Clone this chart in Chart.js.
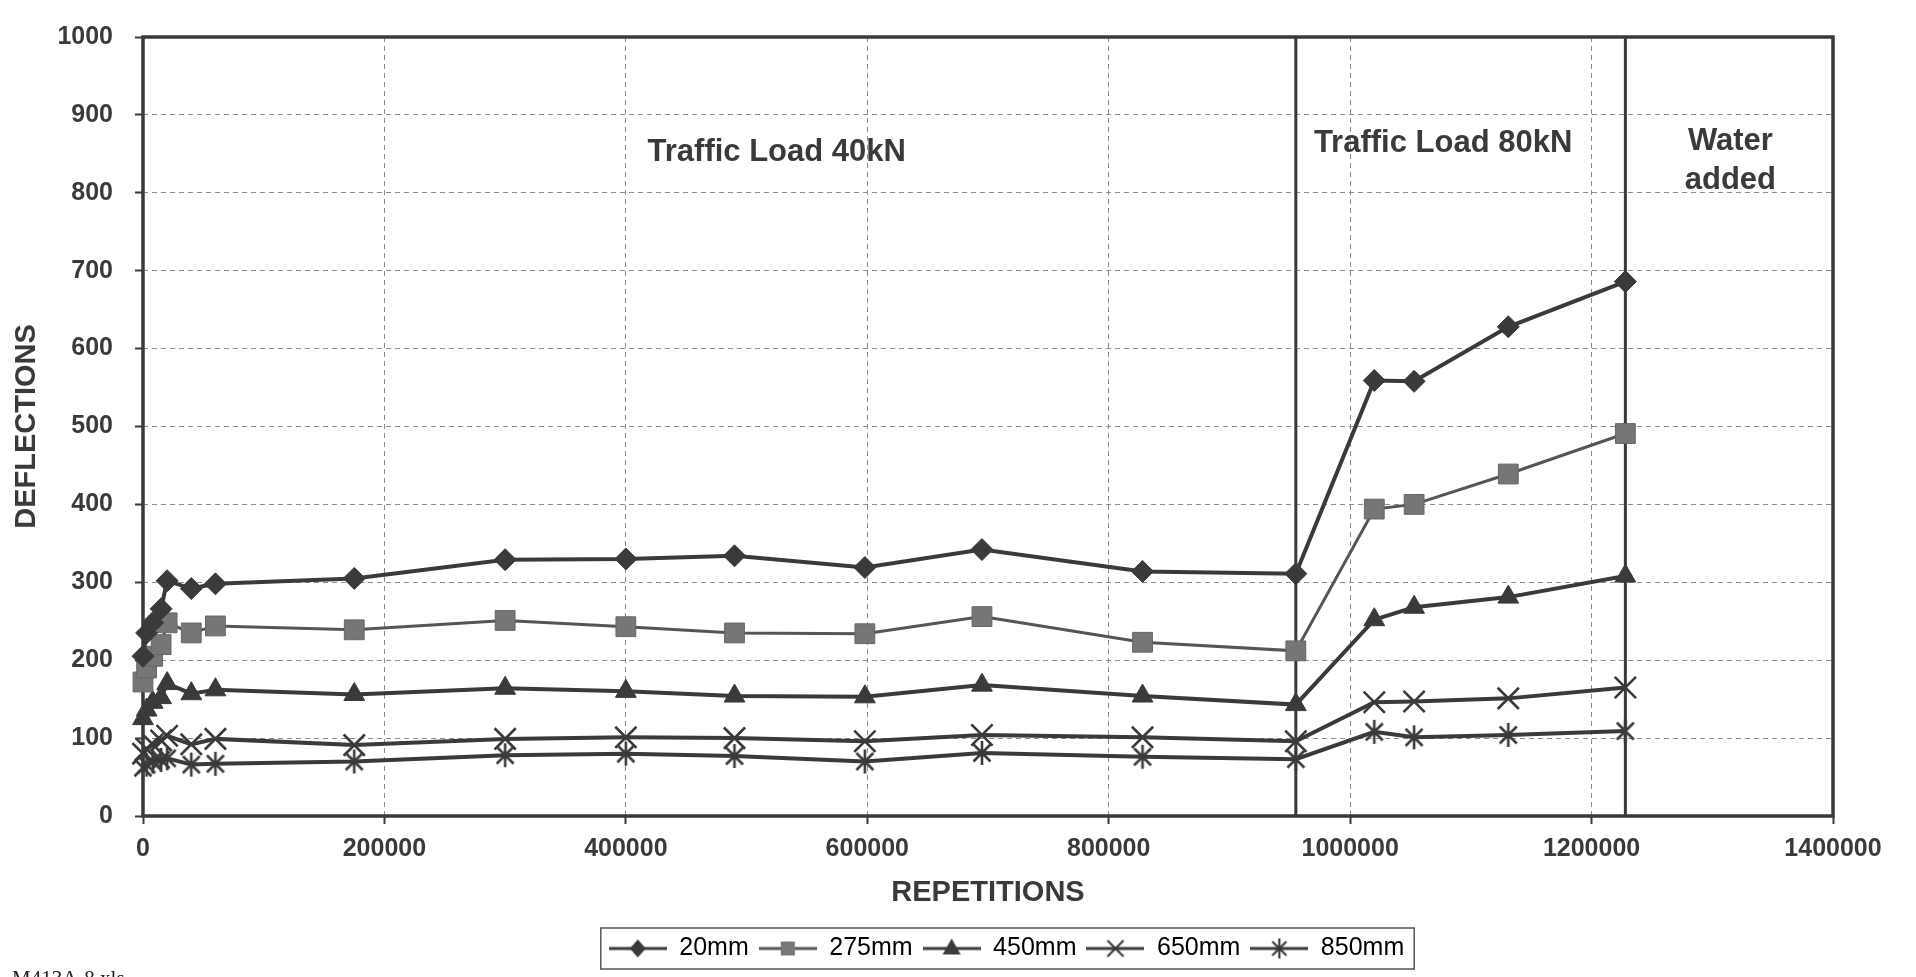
<!DOCTYPE html>
<html>
<head>
<meta charset="utf-8">
<title>Deflections vs repetitions</title>
<script src="https://cdn.jsdelivr.net/npm/chart.js@4.4.1/dist/chart.umd.min.js"></script>
<style>
  html, body { margin: 0; padding: 0; background: #fff; }
  #wrap { width: 1916px; height: 977px; }
</style>
</head>
<body>
<div id="wrap"><canvas id="chart" width="1916" height="977"></canvas></div>
<script>
'use strict';

// Load repetitions (x) and deflections per depth (y)
const repetitions = [0, 3000, 8000, 15000, 20000, 40000, 60000, 175000, 300000, 400000,
  490000, 598000, 695000, 828000, 955000, 1020000, 1053000, 1131000, 1228000];
const defl20  = [205, 235, 248, 266, 302, 292, 298, 305, 329, 330, 334, 319, 342, 314, 311, 559, 558, 628, 686];
const defl275 = [172, 190, 205, 220, 248, 235, 244, 239, 251, 243, 235, 234, 256, 223, 212, 394, 400, 439, 491];
const defl450 = [125, 136, 146, 152, 170, 157, 162, 156, 164, 160, 154, 153, 168, 154, 143, 252, 268, 281, 308];
const defl650 = [80, 86, 92, 97, 103, 92, 99, 91, 99, 101, 100, 96, 104, 101, 96, 146, 147, 151, 165];
const defl850 = [62, 66, 70, 72, 74, 66, 67, 70, 78, 80, 77, 70, 81, 76, 73, 108, 101, 104, 109];
const seriesNames = ['20mm', '275mm', '450mm', '650mm', '850mm'];

const xTicks = [0, 200000, 400000, 600000, 800000, 1000000, 1200000, 1400000];
const yTicks = [0, 100, 200, 300, 400, 500, 600, 700, 800, 900, 1000];

// phase boundaries (80kN starts, water added) and their captions
const phaseLines = [955000, 1228000];
const phaseNotes = [
  { text: 'Traffic Load 40kN', x: 525000, y: 852 },
  { text: 'Traffic Load 80kN', x: 1077000, y: 863 },
  { text: 'Water', x: 1315000, y: 866 },
  { text: 'added', x: 1315000, y: 816 },
];
const sourceNote = 'M413A-8.xls';

const FONT = "'Liberation Sans', Arial, sans-serif";
const INK = '#3a3a3a';

function toPoints(values) {
  return values.map((v, i) => ({ x: repetitions[i], y: v }));
}

function makeCanvas(w, h) {
  const c = document.createElement('canvas');
  c.width = w; c.height = h;
  return c;
}

function drawAsterisk(ctx, cx, cy, r, lw) {
  const d = r * Math.SQRT1_2;
  ctx.lineWidth = lw;
  ctx.strokeStyle = INK;
  ctx.beginPath();
  ctx.moveTo(cx, cy - r); ctx.lineTo(cx, cy + r);
  ctx.moveTo(cx - d, cy - d); ctx.lineTo(cx + d, cy + d);
  ctx.moveTo(cx + d, cy - d); ctx.lineTo(cx - d, cy + d);
  ctx.stroke();
}

const asteriskMark = makeCanvas(28, 28);
drawAsterisk(asteriskMark.getContext('2d'), 14, 14, 12, 2.6);

// legend icons: a short line with the marker in the middle
function legendIcon(kind, lineColor, fill) {
  const c = makeCanvas(58, 26);
  const g = c.getContext('2d');
  const cx = 29, cy = 13;
  g.strokeStyle = lineColor;
  g.lineWidth = 3;
  g.beginPath(); g.moveTo(0, cy); g.lineTo(58, cy); g.stroke();
  g.fillStyle = fill;
  g.strokeStyle = INK;
  g.beginPath();
  if (kind === 'diamond') {
    g.moveTo(cx, cy - 9); g.lineTo(cx + 8, cy); g.lineTo(cx, cy + 9); g.lineTo(cx - 8, cy);
    g.closePath(); g.fill();
  } else if (kind === 'square') {
    g.rect(cx - 7, cy - 7, 14, 14); g.fill();
  } else if (kind === 'triangle') {
    g.moveTo(cx, cy - 10); g.lineTo(cx + 9, cy + 6); g.lineTo(cx - 9, cy + 6);
    g.closePath(); g.fill();
  } else if (kind === 'cross') {
    g.lineWidth = 2.2;
    g.moveTo(cx - 8, cy - 8); g.lineTo(cx + 8, cy + 8);
    g.moveTo(cx + 8, cy - 8); g.lineTo(cx - 8, cy + 8);
    g.stroke();
  } else {
    drawAsterisk(g, cx, cy, 10, 2.2);
  }
  return c;
}

const legendIcons = [
  legendIcon('diamond', INK, INK),
  legendIcon('square', '#555', '#777'),
  legendIcon('triangle', INK, INK),
  legendIcon('cross', INK, INK),
  legendIcon('asterisk', INK, INK),
];

const chartDecor = {
  id: 'chartDecor',
  afterLayout(chart) {
    // legend sits a little right of the canvas centre in the original
    chart.legend.left += 90;
    chart.legend.right += 90;
  },
  beforeDatasetsDraw(chart) {
    const { ctx, chartArea: a, scales: { x } } = chart;
    ctx.save();
    ctx.strokeStyle = INK;
    ctx.lineWidth = 3.5;
    ctx.strokeRect(a.left, a.top, a.right - a.left, a.bottom - a.top);
    ctx.lineWidth = 3;
    phaseLines.forEach((v) => {
      const px = x.getPixelForValue(v);
      ctx.beginPath(); ctx.moveTo(px, a.top); ctx.lineTo(px, a.bottom); ctx.stroke();
    });
    ctx.restore();
  },
  afterDatasetsDraw(chart) {
    const { ctx, scales: { x, y } } = chart;
    ctx.save();
    ctx.fillStyle = INK;
    ctx.font = `bold 31px ${FONT}`;
    ctx.textAlign = 'center';
    ctx.textBaseline = 'middle';
    phaseNotes.forEach((n) => ctx.fillText(n.text, x.getPixelForValue(n.x), y.getPixelForValue(n.y)));
    ctx.restore();
  },
  afterDraw(chart) {
    const { ctx } = chart;
    const boxes = chart.legend.legendHitBoxes;
    if (boxes.length) {
      const first = boxes[0], last = boxes[boxes.length - 1];
      ctx.save();
      ctx.strokeStyle = '#555';
      ctx.lineWidth = 1.5;
      ctx.strokeRect(first.left - 8, first.top - 8, last.left + last.width - first.left + 18, first.height + 16);
      ctx.fillStyle = '#222';
      ctx.font = `21px 'Liberation Serif', 'Times New Roman', serif`;
      ctx.textAlign = 'left';
      ctx.textBaseline = 'alphabetic';
      ctx.fillText(sourceNote, 12, 985);
      ctx.restore();
    }
  },
};

const ctx = document.getElementById('chart').getContext('2d');
new Chart(ctx, {
  type: 'line',
  data: {
    datasets: [
      { label: seriesNames[0], data: toPoints(defl20), borderColor: INK, backgroundColor: INK,
        borderWidth: 4, pointStyle: 'rectRot', pointRadius: 11, pointBorderWidth: 1 },
      { label: seriesNames[1], data: toPoints(defl275), borderColor: '#555', backgroundColor: '#767676',
        borderWidth: 3, pointStyle: 'rect', pointRadius: 14, pointBorderWidth: 1, pointBorderColor: '#666' },
      { label: seriesNames[2], data: toPoints(defl450), borderColor: INK, backgroundColor: INK,
        borderWidth: 4, pointStyle: 'triangle', pointRadius: 12, pointBorderWidth: 1 },
      { label: seriesNames[3], data: toPoints(defl650), borderColor: INK, backgroundColor: INK,
        borderWidth: 4, pointStyle: 'crossRot', pointRadius: 15, pointBorderWidth: 2.6 },
      { label: seriesNames[4], data: toPoints(defl850), borderColor: INK, backgroundColor: INK,
        borderWidth: 4, pointStyle: asteriskMark },
    ],
  },
  options: {
    responsive: false,
    animation: false,
    events: [],
    layout: { padding: { top: 22, right: 83, bottom: 6, left: 0 } },
    elements: { line: { tension: 0 } },
    datasets: { line: { clip: false } },
    scales: {
      x: {
        type: 'linear', min: 0, max: 1400000,
        afterBuildTicks: (s) => { s.ticks = xTicks.map((v) => ({ value: v })); },
        afterFit: (s) => { s.height = 110; },
        ticks: { autoSkip: false, maxRotation: 0, padding: 10, color: INK,
          font: { family: FONT, size: 25, weight: 'bold' }, callback: (v) => String(v) },
        grid: { color: '#8c8c8c', lineWidth: 1, tickLength: 8, tickColor: INK, tickWidth: 2 },
        border: { display: false, dash: [5, 4] },
        title: { display: true, text: 'REPETITIONS', color: INK,
          font: { family: FONT, size: 29, weight: 'bold' }, padding: { top: 0, bottom: 16 } },
      },
      y: {
        type: 'linear', min: 0, max: 1000,
        afterBuildTicks: (s) => { s.ticks = yTicks.map((v) => ({ value: v })); },
        afterFit: (s) => { s.width = 143; },
        ticks: { autoSkip: false, padding: 22, color: INK,
          font: { family: FONT, size: 25, weight: 'bold' }, callback: (v) => String(v) },
        grid: { color: '#8c8c8c', lineWidth: 1, tickLength: 8, tickColor: INK, tickWidth: 2 },
        border: { display: false, dash: [5, 4] },
        title: { display: true, text: 'DEFLECTIONS', color: INK,
          font: { family: FONT, size: 29, weight: 'bold' }, padding: { top: 10, bottom: 0 } },
      },
    },
    plugins: {
      tooltip: { enabled: false },
      legend: {
        position: 'bottom',
        labels: {
          usePointStyle: true, pointStyleWidth: 58, boxHeight: 25, padding: 10,
          color: '#222', font: { family: FONT, size: 25 },
          generateLabels: (chart) => chart.data.datasets.map((ds, i) => ({
            text: ds.label, pointStyle: legendIcons[i], fillStyle: ds.backgroundColor,
            strokeStyle: ds.borderColor, lineWidth: 0, hidden: false, datasetIndex: i,
          })),
        },
      },
    },
  },
  plugins: [chartDecor],
});
</script>
</body>
</html>
